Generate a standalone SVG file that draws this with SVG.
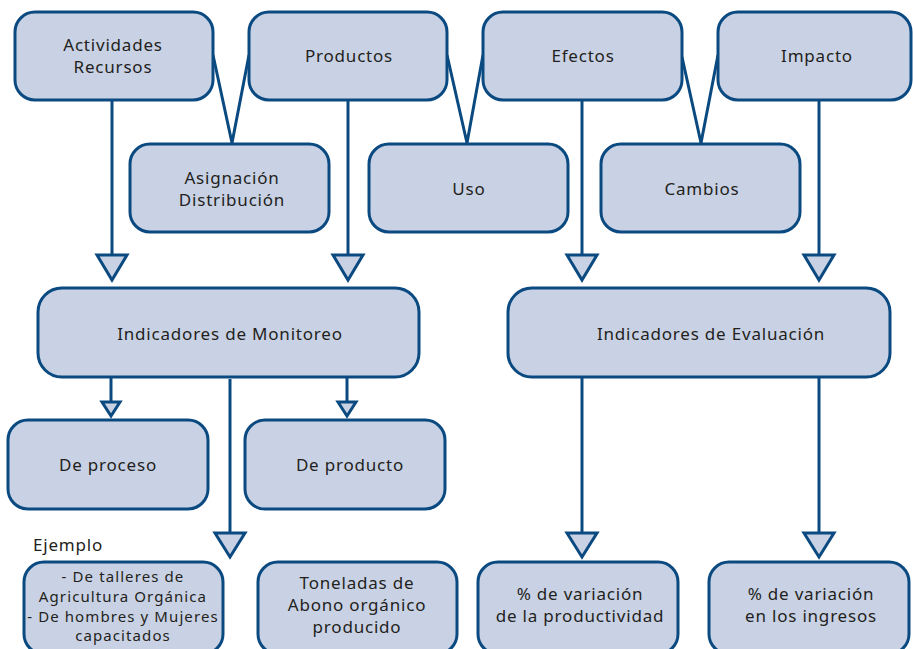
<svg xmlns="http://www.w3.org/2000/svg" width="913" height="649" viewBox="0 0 913 649">
<style>
.box{fill:#c9d2e4;stroke:#0b4a80;stroke-width:3}
.ln{fill:none;stroke:#0b4a80;stroke-width:3}
.tri{fill:#c9d2e4;stroke:#0b4a80;stroke-width:3;stroke-linejoin:miter}
text{font-family:"Noto Sans","DejaVu Sans",sans-serif;font-size:17px;letter-spacing:0.8px;fill:#231f20;text-anchor:middle}
.sm{font-size:15px;letter-spacing:1.1px}
</style>
<rect width="913" height="649" fill="#ffffff"/>
<g id="connectors">
<polyline class="ln" points="213,55 232,143 249,55"/>
<polyline class="ln" points="447,55 467,143 483,55"/>
<polyline class="ln" points="682,57 701,143 718,55"/>
<line class="ln" x1="112" y1="100" x2="112" y2="255"/>
<polygon class="tri" points="97,255 127,255 112,280"/>
<line class="ln" x1="348" y1="100" x2="348" y2="255"/>
<polygon class="tri" points="333,255 363,255 348,280"/>
<line class="ln" x1="582" y1="100" x2="582" y2="255"/>
<polygon class="tri" points="567,255 597,255 582,280"/>
<line class="ln" x1="819" y1="100" x2="819" y2="255"/>
<polygon class="tri" points="804,255 834,255 819,280"/>
<line class="ln" x1="111" y1="377" x2="111" y2="402"/>
<polygon class="tri" points="102,402 120,402 111,416"/>
<line class="ln" x1="347" y1="377" x2="347" y2="402"/>
<polygon class="tri" points="338,402 356,402 347,416"/>
<line class="ln" x1="230" y1="379" x2="230" y2="533"/>
<polygon class="tri" points="215,533 245,533 230,557"/>
<line class="ln" x1="582" y1="377" x2="582" y2="533"/>
<polygon class="tri" points="567,533 597,533 582,557"/>
<line class="ln" x1="819" y1="377" x2="819" y2="533"/>
<polygon class="tri" points="804,533 834,533 819,557"/>
</g>
<g id="actividades"><rect class="box" x="15" y="12" width="198" height="88" rx="20"/><text x="113" y="51">Actividades</text><text x="113" y="73">Recursos</text></g>
<g id="productos"><rect class="box" x="249" y="12" width="198" height="88" rx="20"/><text x="349" y="62">Productos</text></g>
<g id="efectos"><rect class="box" x="483" y="12" width="199" height="88" rx="20"/><text x="583" y="62">Efectos</text></g>
<g id="impacto"><rect class="box" x="718" y="12" width="193" height="88" rx="20"/><text x="817" y="62">Impacto</text></g>
<g id="asignacion"><rect class="box" x="130" y="144" width="199" height="88" rx="20"/><text x="232" y="184">Asignación</text><text x="232" y="206">Distribución</text></g>
<g id="uso"><rect class="box" x="369" y="144" width="199" height="88" rx="20"/><text x="469" y="195">Uso</text></g>
<g id="cambios"><rect class="box" x="601" y="144" width="199" height="88" rx="20"/><text x="702" y="195">Cambios</text></g>
<g id="ind-monitoreo"><rect class="box" x="38" y="288" width="381" height="89" rx="24"/><text x="230" y="340">Indicadores de Monitoreo</text></g>
<g id="ind-evaluacion"><rect class="box" x="508" y="288" width="382" height="89" rx="24"/><text x="711" y="340">Indicadores de Evaluación</text></g>
<g id="de-proceso"><rect class="box" x="8" y="420" width="200" height="89" rx="20"/><text x="108" y="471">De proceso</text></g>
<g id="de-producto"><rect class="box" x="245" y="420" width="200" height="89" rx="20"/><text x="350" y="471">De producto</text></g>
<g id="ejemplo"><text x="33" y="551" style="text-anchor:start">Ejemplo</text></g>
<g id="ej-proceso"><rect class="box" x="24" y="562" width="199" height="92" rx="20"/><text class="sm" x="123" y="582">- De talleres de</text><text class="sm" x="123" y="602">Agricultura Orgánica</text><text class="sm" x="123" y="622">- De hombres y Mujeres</text><text class="sm" x="123" y="641">capacitados</text></g>
<g id="ej-producto"><rect class="box" x="258" y="562" width="199" height="92" rx="20"/><text x="357" y="589">Toneladas de</text><text x="357" y="611">Abono orgánico</text><text x="357" y="633">producido</text></g>
<g id="ej-productividad"><rect class="box" x="478" y="562" width="200" height="92" rx="20"/><text x="580" y="600">% de variación</text><text x="580" y="622">de la productividad</text></g>
<g id="ej-ingresos"><rect class="box" x="709" y="562" width="200" height="92" rx="20"/><text x="811" y="600">% de variación</text><text x="811" y="622">en los ingresos</text></g>
</svg>
